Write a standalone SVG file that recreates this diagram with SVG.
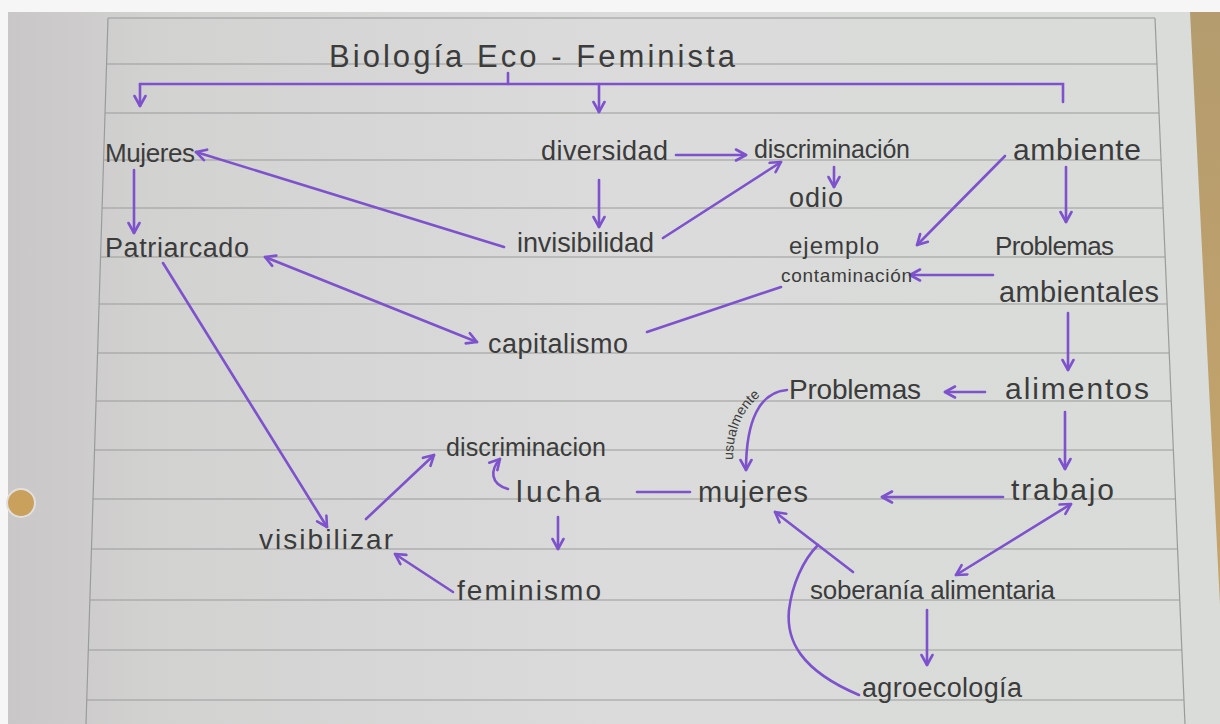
<svg xmlns="http://www.w3.org/2000/svg" width="1220" height="724" viewBox="0 0 1220 724">
<defs>
<style>
.n{font-family:"Liberation Sans",Arial,sans-serif;fill:#3c3c3c}
.c{fill:none;stroke:#7d52cc;stroke-width:2.6;stroke-linecap:round}
.a{marker-end:url(#ah)}
.b{marker-start:url(#ah);marker-end:url(#ah)}
.r{stroke:#9a9c9a;stroke-width:1.2}
</style>
<marker id="ah" viewBox="0 0 14 14" refX="12" refY="7" markerWidth="14" markerHeight="14" markerUnits="userSpaceOnUse" orient="auto-start-reverse">
<path d="M2,1.5 L12,7 L2,12.5" fill="none" stroke="#7d52cc" stroke-width="2.6" stroke-linecap="round" stroke-linejoin="round"/>
</marker>
<linearGradient id="pg" x1="0" y1="0" x2="1" y2="0">
<stop offset="0" stop-color="#c9c7c7"/>
<stop offset="0.12" stop-color="#d2d2d1"/>
<stop offset="0.5" stop-color="#dadbda"/>
<stop offset="1" stop-color="#d9dcd9"/>
</linearGradient>
<linearGradient id="wg" x1="0" y1="0" x2="0" y2="1">
<stop offset="0" stop-color="#b49c6e"/>
<stop offset="1" stop-color="#c9a66a"/>
</linearGradient>
</defs>
<g id="paper">
<rect width="1220" height="724" fill="#f6f6f6"/>
<rect x="1150" y="12" width="70" height="712" fill="url(#wg)"/>
<polygon points="8,12 1190,12 1226,724 8,724" fill="url(#pg)"/>
<line class="r" x1="108" y1="18" x2="1155" y2="18"/>
<line class="r" x1="107" y1="64" x2="1157" y2="64"/>
<line class="r" x1="105" y1="113" x2="1159" y2="113"/>
<line class="r" x1="104" y1="160" x2="1161" y2="160"/>
<line class="r" x1="102" y1="208" x2="1163" y2="208"/>
<line class="r" x1="101" y1="257" x2="1165" y2="257"/>
<line class="r" x1="99" y1="304" x2="1167" y2="304"/>
<line class="r" x1="98" y1="353" x2="1169" y2="353"/>
<line class="r" x1="96" y1="401" x2="1171" y2="401"/>
<line class="r" x1="95" y1="450" x2="1173" y2="450"/>
<line class="r" x1="93" y1="499" x2="1175" y2="499"/>
<line class="r" x1="91" y1="549" x2="1178" y2="549"/>
<line class="r" x1="90" y1="600" x2="1180" y2="600"/>
<line class="r" x1="88" y1="650" x2="1182" y2="650"/>
<line class="r" x1="87" y1="700" x2="1184" y2="700"/>
<line class="r" x1="108" y1="18" x2="86" y2="724"/>
<line class="r" x1="1155" y1="18" x2="1185" y2="724"/>
<circle cx="21" cy="503" r="14" fill="#c9a05c" stroke="#e2e0de" stroke-width="2"/>
</g>
<g id="connectors">
<path class="c" d="M140,84 H1063 V102"/>
<path class="c" d="M508,73 V84"/>
<path class="c a" d="M140,84 V106"/>
<path class="c a" d="M599,84 V112"/>
<path class="c a" d="M134,170 V233"/>
<path class="c a" d="M504,247 L196,152"/>
<path class="c a" d="M599,180 V227"/>
<path class="c a" d="M676,155 H746"/>
<path class="c a" d="M663,238 L781,162"/>
<path class="c a" d="M834,167 V187"/>
<path class="c a" d="M1005,156 L917,245"/>
<path class="c a" d="M1066,167 V222"/>
<path class="c a" d="M993,275 H910"/>
<path class="c" d="M647,332 L781,287"/>
<path class="c b" d="M265,257 L477,342"/>
<path class="c a" d="M163,263 L327,527"/>
<path class="c a" d="M1068,313 V370"/>
<path class="c a" d="M985,392 H945"/>
<path class="c a" d="M787,390 C760,392 746,420 746,470"/>
<path class="c a" d="M1065,412 V469"/>
<path class="c a" d="M1003,497 H882"/>
<path class="c" d="M637,492 H690"/>
<path class="c a" d="M508,489 C490,484 490,470 500,459"/>
<path class="c a" d="M558,517 V549"/>
<path class="c a" d="M366,519 L434,455"/>
<path class="c a" d="M453,592 L395,554"/>
<path class="c b" d="M1071,504 L956,575"/>
<path class="c a" d="M853,572 L775,512"/>
<path class="c" d="M859,695 C800,670 786,640 789,610 C792,585 803,560 818,545"/>
<path class="c a" d="M927,610 V665"/>
<path id="usuLabel" d="M733,460 C733,425 747,395 788,381" fill="none"/>
<text class="n" font-size="14"><textPath href="#usuLabel">usualmente</textPath></text>
</g>
<g id="title"><text class="n" x="329" y="67" font-size="31" textLength="406">Biología Eco - Feminista</text></g>
<g id="n-mujeres1"><text class="n" x="105" y="162" font-size="26" textLength="90">Mujeres</text></g>
<g id="n-diversidad"><text class="n" x="541" y="160" font-size="27" textLength="127">diversidad</text></g>
<g id="n-discriminacion1"><text class="n" x="754" y="158" font-size="25" textLength="156">discriminación</text></g>
<g id="n-ambiente"><text class="n" x="1013" y="160" font-size="30" textLength="128">ambiente</text></g>
<g id="n-odio"><text class="n" x="789" y="207" font-size="27" textLength="54">odio</text></g>
<g id="n-patriarcado"><text class="n" x="105" y="257" font-size="27" textLength="144">Patriarcado</text></g>
<g id="n-invisibilidad"><text class="n" x="517" y="252" font-size="27" textLength="137">invisibilidad</text></g>
<g id="n-ejemplo"><text class="n" x="789" y="254" font-size="24" textLength="90">ejemplo</text></g>
<g id="n-contaminacion"><text class="n" x="781" y="282" font-size="19" textLength="131">contaminación</text></g>
<g id="n-problemas1"><text class="n" x="995" y="255" font-size="26" textLength="119">Problemas</text></g>
<g id="n-ambientales"><text class="n" x="999" y="302" font-size="29" textLength="160">ambientales</text></g>
<g id="n-capitalismo"><text class="n" x="488" y="353" font-size="27" textLength="140">capitalismo</text></g>
<g id="n-problemas2"><text class="n" x="789" y="399" font-size="28" textLength="132">Problemas</text></g>
<g id="n-alimentos"><text class="n" x="1005" y="399" font-size="30" textLength="144">alimentos</text></g>
<g id="n-discriminacion2"><text class="n" x="446" y="456" font-size="25" textLength="160">discriminacion</text></g>
<g id="n-lucha"><text class="n" x="516" y="502" font-size="30" textLength="85">lucha</text></g>
<g id="n-mujeres2"><text class="n" x="698" y="502" font-size="29" textLength="110">mujeres</text></g>
<g id="n-trabajo"><text class="n" x="1011" y="500" font-size="30" textLength="103">trabajo</text></g>
<g id="n-visibilizar"><text class="n" x="259" y="549" font-size="28" textLength="134">visibilizar</text></g>
<g id="n-feminismo"><text class="n" x="457" y="600" font-size="28" textLength="144">feminismo</text></g>
<g id="n-soberania"><text class="n" x="810" y="599" font-size="26" textLength="245">soberanía alimentaria</text></g>
<g id="n-agroecologia"><text class="n" x="862" y="697" font-size="27" textLength="160">agroecología</text></g>
</svg>
